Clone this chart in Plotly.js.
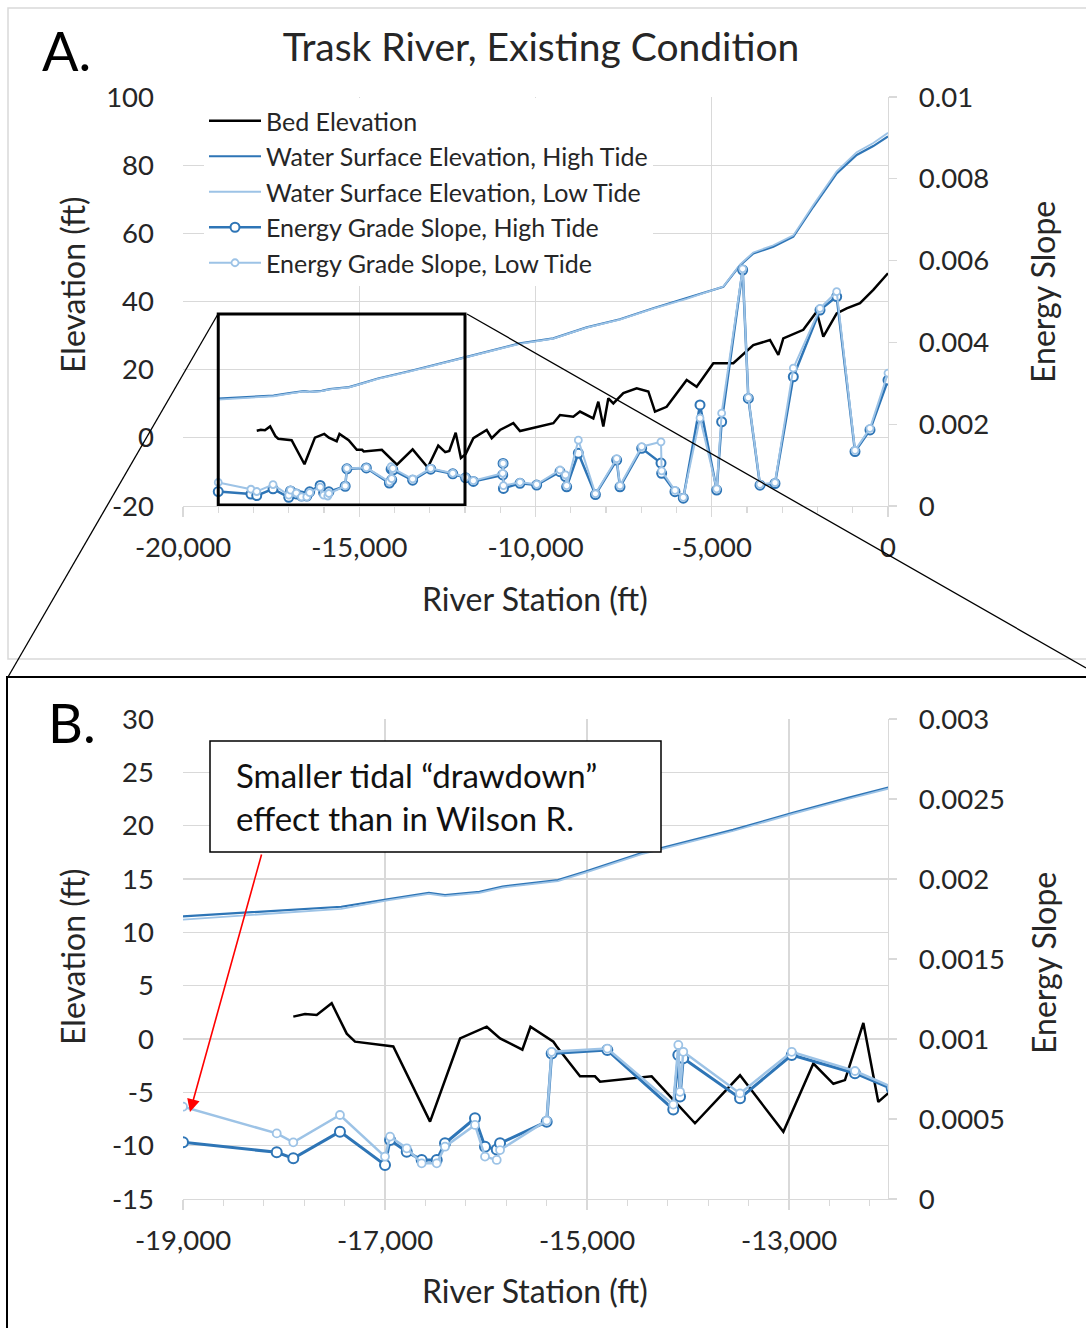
<!DOCTYPE html>
<html>
<head>
<meta charset="utf-8">
<script src="https://cdn.plot.ly/plotly-3.0.1.min.js"></script>
<style>html,body{margin:0;padding:0;background:#fff;}#chart{width:1086px;height:1328px;}</style>
</head>
<body>
<div id="chart"></div>
<script>
// ---------- DATA ----------
const bedStation = [-17908,-17792,-17676,-17528,-17379,-17297,-16918,-16554,-16257,-15993,-15861,-15640,-15560,-15333,-15300,-15069,-14921,-14871,-14360,-13931,-13485,-13056,-12759,-12561,-12446,-12264,-12116,-11983,-11763,-11384,-11242,-11007,-10629,-10440,-9872,-9494,-9305,-8927,-8738,-8360,-8218,-8076,-7934,-7792,-7508,-7130,-6799,-6610,-6279,-5711,-5428,-4955,-4388,-3821,-3348,-3111,-2970,-2403,-2024,-1835,-1456,-1173,-794,-417,0];
const bedElevation = [2.1,2.35,2.25,3.35,0.5,-0.25,-0.7,-7.75,0.05,1.15,0.05,-1.0,1.15,-0.25,-0.7,-3.5,-3.5,-4.0,-3.5,-7.9,-3.4,-8.7,-2.3,-4.2,-3.85,1.5,-5.9,-4.8,-0.1,2.3,-0.1,2.3,4.3,2.0,3.5,4.3,6.7,6.2,7.7,5.7,10.6,3.3,11.6,10.1,13.1,14.5,13.6,7.7,9.1,17.0,15.0,21.9,21.9,27.2,28.7,24.3,29.2,31.7,37.0,29.7,36.5,38.0,39.5,43.4,48.3];

const wseStation = [-19000,-18347,-17433,-16976,-16566,-16406,-16064,-15836,-15288,-15015,-14467,-13554,-12961,-12414,-12003,-10440,-9494,-8547,-7603,-6657,-5711,-4672,-4199,-3821,-3253,-2686,-2119,-1456,-889,-417,0];
const wseHighTide = [11.5,11.9,12.4,13.1,13.7,13.5,13.8,14.3,14.9,15.7,17.4,19.6,21.2,22.6,23.6,27.7,29.2,32.4,34.8,38.0,40.9,44.3,50.6,54.1,56.1,59.0,67.8,77.6,83.0,85.6,88.4];
const wseLowTide  = [11.2,11.6,12.2,13.0,13.6,13.4,13.7,14.2,14.8,15.6,17.3,19.5,21.1,22.5,23.5,27.6,29.1,32.3,34.7,37.9,40.8,44.4,50.8,54.4,56.5,59.4,68.3,78.2,83.8,86.5,89.5];

const egsStation = [-19000,-18072,-17908,-17446,-17000,-16950,-16785,-16637,-16488,-16406,-16109,-16010,-15894,-15861,-15399,-15350,-14799,-14146,-14096,-14079,-14047,-13485,-12973,-12347,-11983,-11763,-10930,-10920,-10910,-10440,-9967,-9305,-9150,-9116,-8785,-8300,-7697,-7603,-6988,-6440,-6421,-6043,-5807,-5333,-4860,-4719,-4123,-3962,-3631,-3206,-2686,-1929,-1456,-936,-511,0];
const egsHighTide = [0.000354,0.000292,0.000254,0.000421,0.000213,0.000369,0.000296,0.000244,0.000244,0.000348,0.000504,0.000327,0.000310,0.000348,0.000483,0.000910,0.000931,0.000560,0.000900,0.000640,0.000880,0.000630,0.000900,0.000786,0.000690,0.000600,0.000760,0.001040,0.000430,0.000555,0.000513,0.000840,0.000720,0.000470,0.001290,0.000280,0.001120,0.000470,0.001410,0.001050,0.000800,0.000350,0.000190,0.002470,0.000390,0.002060,0.005770,0.002630,0.000510,0.000550,0.003160,0.004790,0.005120,0.001330,0.001860,0.003080];
const egsLowTide  = [0.000577,0.000410,0.000354,0.000525,0.000265,0.000390,0.000317,0.000223,0.000223,0.000327,0.000463,0.000265,0.000244,0.000306,0.000490,0.000920,0.000940,0.000590,0.000963,0.000670,0.000920,0.000660,0.000920,0.000800,0.000700,0.000620,0.000800,0.001040,0.000500,0.000580,0.000530,0.000880,0.000760,0.000500,0.001610,0.000300,0.001160,0.000500,0.001450,0.001570,0.000860,0.000380,0.000210,0.002150,0.000420,0.002270,0.005800,0.002650,0.000530,0.000570,0.003370,0.004830,0.005240,0.001360,0.001900,0.003250];

const seriesNames = ["Bed Elevation","Water Surface Elevation, High Tide","Water Surface Elevation, Low Tide","Energy Grade Slope, High Tide","Energy Grade Slope, Low Tide"];

const tickA_x = [-20000,-15000,-10000,-5000,0];
const tickA_xText = ["-20,000","-15,000","-10,000","-5,000","0"];
const tickA_y = [-20,0,20,40,60,80,100];
const tickA_yText = ["-20","0","20","40","60","80","100"];
const tickA_y2 = [0,0.002,0.004,0.006,0.008,0.01];
const tickA_y2Text = ["0","0.002","0.004","0.006","0.008","0.01"];
const tickB_x = [-19000,-17000,-15000,-13000];
const tickB_xText = ["-19,000","-17,000","-15,000","-13,000"];
const tickB_y = [-15,-10,-5,0,5,10,15,20,25,30];
const tickB_yText = ["-15","-10","-5","0","5","10","15","20","25","30"];
const tickB_y2 = [0,0.0005,0.001,0.0015,0.002,0.0025,0.003];
const tickB_y2Text = ["0","0.0005","0.001","0.0015","0.002","0.0025","0.003"];

const titleText = "Trask River, Existing Condition";
const xTitle = "River Station (ft)";
const yTitle = "Elevation (ft)";
const y2Title = "Energy Slope";
const noteText = "Smaller tidal \u201cdrawdown\u201d<br>effect than in Wilson R.";

// ---------- STYLE ----------
const W = 1086, H = 1328;
const px = v => v / W;
const py = v => 1 - v / H;
const FONT = "Lato, 'Open Sans', sans-serif";
const TXT = "#262626";
const GRID = "#D9D9D9";
const DARK = "#2E75B6", LIGHT = "#9DC3E6";

function seriesTraces(xa, ya, ya2, show, big) {
  const mh = big ? 10 : 9, ml = big ? 8 : 7;
  return [
    {x: bedStation, y: bedElevation, name: seriesNames[0], mode: "lines", line: {color: "#000000", width: 2.5}, xaxis: xa, yaxis: ya, showlegend: show},
    {x: wseStation, y: wseHighTide, name: seriesNames[1], mode: "lines", line: {color: DARK, width: 2.2}, xaxis: xa, yaxis: ya, showlegend: show},
    {x: wseStation, y: wseLowTide, name: seriesNames[2], mode: "lines", line: {color: LIGHT, width: 1.8}, xaxis: xa, yaxis: ya, showlegend: show},
    {x: egsStation, y: egsHighTide, name: seriesNames[3], mode: "lines+markers", line: {color: DARK, width: big ? 3 : 2.5}, marker: {symbol: "circle", size: mh, color: "#ffffff", line: {color: DARK, width: 2}}, xaxis: xa, yaxis: ya2, showlegend: show},
    {x: egsStation, y: egsLowTide, name: seriesNames[4], mode: "lines+markers", line: {color: LIGHT, width: big ? 2.5 : 2}, marker: {symbol: "circle", size: ml, color: "#ffffff", line: {color: LIGHT, width: 1.8}}, xaxis: xa, yaxis: ya2, showlegend: show}
  ];
}

const data = [].concat(seriesTraces("x", "y", "y2", true, false), seriesTraces("x2", "y3", "y4", false, true));

const tickFont = {family: FONT, size: 27.5, color: TXT};
const xDom = [px(183), px(888)];
function xAxis(anchor, range, tv, tt, minorDt, minorT0) {
  return {domain: xDom, anchor: anchor, range: range, tickmode: "array", tickvals: tv, ticktext: tt,
    showline: true, linecolor: GRID, linewidth: 1.3, ticks: "outside", ticklen: 10, tickcolor: GRID, tickwidth: 1.3,
    showgrid: true, gridcolor: GRID, gridwidth: 1.2, zeroline: false, tickfont: tickFont, ticklabelstandoff: 7,
    minor: {dtick: minorDt, tick0: minorT0, ticks: "outside", ticklen: 6, tickcolor: GRID, tickwidth: 1.3, showgrid: false},
    fixedrange: true};
}
function yLeft(anchor, dom, range, tv, tt) {
  return {domain: dom, anchor: anchor, range: range, tickmode: "array", tickvals: tv, ticktext: tt,
    showline: false, ticks: "", showgrid: true, gridcolor: GRID, gridwidth: 1.2, zeroline: false,
    tickfont: tickFont, ticklabelstandoff: 28, fixedrange: true};
}
function yRight(anchor, over, range, tv, tt) {
  return {overlaying: over, side: "right", anchor: anchor, range: range, tickmode: "array", tickvals: tv, ticktext: tt,
    showline: true, linecolor: GRID, linewidth: 1.3, ticks: "outside", ticklen: 8, tickcolor: GRID, tickwidth: 1.3,
    showgrid: false, zeroline: false, tickfont: tickFont, ticklabelstandoff: 16, fixedrange: true};
}

const axTitleFont = {family: FONT, size: 32, color: TXT};
function ann(text, x, y, opts) {
  return Object.assign({text: text, xref: "paper", yref: "paper", x: px(x), y: py(y), showarrow: false,
    xanchor: "center", yanchor: "middle", font: axTitleFont}, opts || {});
}

const layout = {
  width: W, height: H, margin: {l: 0, r: 0, t: 0, b: 0}, paper_bgcolor: "#ffffff", plot_bgcolor: "#ffffff",
  font: {family: FONT, color: TXT},
  title: {text: titleText, x: px(541), y: py(47), xanchor: "center", yanchor: "middle", font: {family: FONT, size: 39, color: TXT}},
  xaxis: xAxis("y", [-20000, 0], tickA_x, tickA_xText, 1000, -20000),
  yaxis: yLeft("x", [py(506), py(97)], [-20, 100], tickA_y, tickA_yText),
  yaxis2: yRight("x", "y", [0, 0.01], tickA_y2, tickA_y2Text),
  xaxis2: xAxis("y3", [-19000, -12020], tickB_x, tickB_xText, 400, -19000),
  yaxis3: yLeft("x2", [py(1199), py(719)], [-15, 30], tickB_y, tickB_yText),
  yaxis4: yRight("x2", "y3", [0, 0.003], tickB_y2, tickB_y2Text),
  showlegend: true,
  legend: {x: px(204), y: py(98), xanchor: "left", yanchor: "top", bgcolor: "#ffffff", borderwidth: 0,
    font: {family: FONT, size: 25, color: TXT}, itemwidth: 52, tracegroupgap: 0},
  shapes: [
    {type: "rect", xref: "paper", yref: "paper", x0: px(8), x1: px(1092), y0: py(659), y1: py(8), line: {color: GRID, width: 1.5}, layer: "below"},
    {type: "rect", xref: "paper", yref: "paper", x0: px(7), x1: px(1094), y0: py(1334), y1: py(677), line: {color: "#000000", width: 2}, layer: "above"},
    {type: "rect", xref: "x", yref: "y", x0: -19000, x1: -12000, y0: -19.7, y1: 36.3, line: {color: "#000000", width: 3}, layer: "above"},
    {type: "line", xref: "paper", yref: "paper", x0: px(218), y0: py(314), x1: px(8), y1: py(677), line: {color: "#000000", width: 1.3}, layer: "above"},
    {type: "line", xref: "paper", yref: "paper", x0: px(467), y0: py(314), x1: px(1086), y1: py(668), line: {color: "#000000", width: 1.3}, layer: "above"},
    {type: "rect", xref: "paper", yref: "paper", x0: px(210), x1: px(661), y0: py(852), y1: py(741), fillcolor: "#ffffff", line: {color: "#000000", width: 1.5}, layer: "above"}
  ],
  annotations: [
    ann("A.", 66, 50, {font: {family: FONT, size: 54, color: "#000000"}}),
    ann("B.", 72, 722, {font: {family: FONT, size: 54, color: "#000000"}}),
    ann(xTitle, 535, 598),
    ann(yTitle, 72, 285, {textangle: -90}),
    ann(y2Title, 1043, 292, {textangle: -90}),
    ann(xTitle, 535, 1290),
    ann(yTitle, 72, 957, {textangle: -90}),
    ann(y2Title, 1043, 963, {textangle: -90}),
    ann(noteText, 234, 796, {xanchor: "left", align: "left", font: {family: FONT, size: 33, color: "#111111"}}),
    {xref: "x2", yref: "y3", x: -18931, y: -6.84, ax: 72, ay: -259, text: "", showarrow: true,
      arrowcolor: "#FF0000", arrowhead: 2, arrowsize: 1.6, arrowwidth: 1.6, standoff: 0}
  ]
};

Plotly.newPlot("chart", data, layout, {staticPlot: true, displayModeBar: false});
</script>
</body>
</html>
